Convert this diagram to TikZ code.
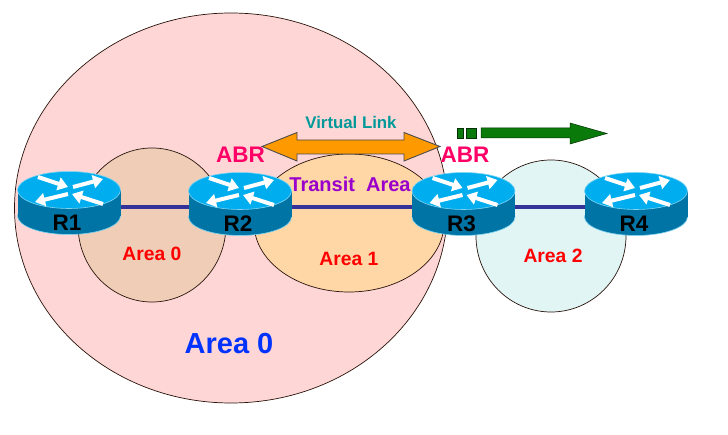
\documentclass[tikz,border=0pt]{standalone}
\usepackage{fontspec}
\setmainfont{Liberation Sans}
\usepackage[svgnames, dvipsnames]{xcolor}
\usetikzlibrary{shapes.geometric, arrows.meta}
\definecolor{routertopcol}{HTML}{00AEEF}
\definecolor{routersidecol}{HTML}{0075A5}
\definecolor{routeredgecol}{HTML}{7FD4F2}
\definecolor{linkcol}{HTML}{333399}
\definecolor{abrcol}{HTML}{FF0066}
\definecolor{bigzonecol}{HTML}{FFD6D6}
\definecolor{zoneAcol}{HTML}{EFCDB6}
\definecolor{zoneBcol}{HTML}{FFD6A6}
\definecolor{zoneCcol}{HTML}{E1F5F5}
\definecolor{flowcol}{HTML}{0A7A0A}
\definecolor{vlinkcol}{HTML}{FF9900}
\definecolor{transitcol}{HTML}{9900CC}
\begin{document}
\begin{tikzpicture}[x=1pt, y=-1pt,
    areazone/.style={ellipse, inner sep=0pt, draw=black!75!Sienna, line width=0.7pt},
    arealabel/.style={font=\bfseries\fontsize{19.3}{21}\selectfont, text=red},
    abrlabel/.style={font=\bfseries\fontsize{22.5}{24}\selectfont, text=abrcol},
    routertop/.style={ellipse, minimum width=103, minimum height=37, inner sep=0pt, fill=routertopcol, draw=routeredgecol, line width=0.6pt},
    routerbase/.style={ellipse, minimum width=103, minimum height=37, inner sep=0pt, fill=routersidecol, draw=routeredgecol, line width=0.6pt},
    routerbody/.style={rectangle, minimum width=103, minimum height=26, inner sep=0pt, fill=routersidecol},
    routername/.style={font=\bfseries\fontsize{22.5}{24}\selectfont, text=black},
    whitearrow/.style={white, line width=4pt, -{Triangle[length=10pt, width=13pt]}},
    link/.style={linkcol, line width=3.5pt},
    greenbar/.style={rectangle, inner sep=0pt, fill=flowcol, draw=black!60!flowcol, line width=0.5pt}]
    \useasboundingbox[fill=white] (0,0) rectangle (728,435);
    % the areas
    \node[areazone, minimum width=433, minimum height=390, fill=bigzonecol] (bigzone) at (231,208) {};
    \node[areazone, minimum width=148, minimum height=154, fill=zoneAcol] (zoneA) at (152,225) {};
    \node[areazone, minimum width=190, minimum height=138, fill=zoneBcol] (zoneB) at (349,223) {};
    \node[areazone, minimum width=150, minimum height=152, fill=zoneCcol] (zoneC) at (551,236) {};
    % the links run under the routers
    \foreach \rname/\px/\py in {R1/69/207, R2/240/207, R3/463.5/207, R4/636/207}
        \coordinate (\rname) at (\px,\py);
    \draw[link] (R1) -- (R2);
    \draw[link] (R2) -- (R3);
    \draw[link] (R3) -- (R4);
    % routers
    \foreach \rname/\px/\py in {R1/69/190, R2/240/191, R3/463.5/191, R4/636/191} {
        \begin{scope}[shift={(\px,\py)}]
            \node[routerbase] (\rname base) at (0,26) {};
            \node[routerbody] (\rname body) at (0,13) {};
            \node[routertop] (\rname top) at (0,0) {};
            \draw[whitearrow] (-31,-13) -- (-1,-3);
            \draw[whitearrow] (4,-3) -- (34,-11);
            \draw[whitearrow] (-1,4) -- (-34,12);
            \draw[whitearrow] (34,14) -- (3,4);
            \node[routername] (\rname name) at (-2,32.5) {\rname};
        \end{scope}
    }
    % virtual link and the dashed green arrow
    \draw[fill=vlinkcol, draw=black!70, line width=0.9pt] (262,146.5) -- (297,132.5) -- (297,140) -- (404,140) -- (404,132.5) -- (440,146.5) -- (404,161) -- (404,154) -- (297,154) -- (297,161) -- cycle;
    \node[greenbar, minimum width=6, minimum height=10] (dashA) at (460,133) {};
    \node[greenbar, minimum width=10, minimum height=10] (dashB) at (471,133) {};
    \draw[fill=flowcol, draw=black!60!flowcol, line width=0.5pt] (481,128) -- (570,128) -- (570,123) -- (607,133.5) -- (570,144) -- (570,138) -- (481,138) -- cycle;
    % labels
    \node[font=\bfseries\fontsize{16.8}{18}\selectfont, text=Teal!80!Cyan] (vlinklabel) at (351,122) {Virtual Link};
    \node[abrlabel] (abrA) at (240.5,155) {ABR};
    \node[abrlabel] (abrB) at (465,155) {ABR};
    \node[font=\bfseries\fontsize{20}{22}\selectfont, text=transitcol] (transit) at (350,184) {Transit\ \ Area};
    \node[arealabel] (labelA) at (152,254) {Area 0};
    \node[arealabel] (labelB) at (349,259) {Area 1};
    \node[arealabel] (labelC) at (553,256) {Area 2};
    \node[font=\bfseries\fontsize{29}{31}\selectfont, text=blue!80!Cyan] (labelbig) at (229,344) {Area 0};
\end{tikzpicture}
\end{document}
